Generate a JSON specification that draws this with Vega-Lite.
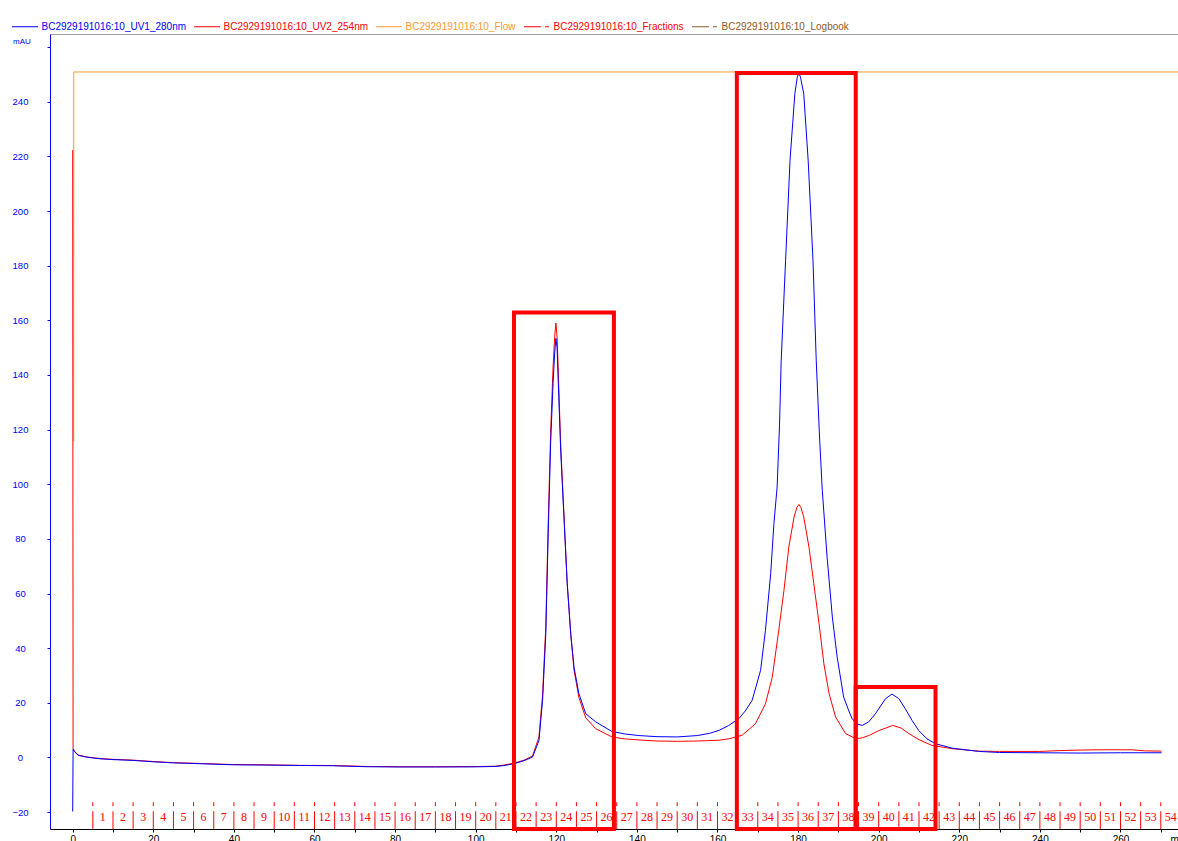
{
  "$schema": "https://vega.github.io/schema/vega-lite/v6.json",
  "width": 1129,
  "height": 795,
  "autosize": {"type": "none"},
  "padding": {"left": 50, "top": 34, "right": 0, "bottom": 12},
  "background": "white",
  "config": {
    "view": {"stroke": "#a0a0a0", "strokeWidth": 1},
    "axis": {"labelFont": "Liberation Sans", "titleFont": "Liberation Sans", "grid": false},
    "legend": {"labelFont": "Liberation Sans"}
  },
  "datasets": {
    "uv1": [
      {"ml": 0, "mAU": -19.8}, {"ml": 0.1, "mAU": 3.0}, {"ml": 0.4, "mAU": 2.2}, {"ml": 1.3, "mAU": 0.8},
      {"ml": 3.4, "mAU": 0.1}, {"ml": 6.7, "mAU": -0.5}, {"ml": 10, "mAU": -0.8}, {"ml": 15, "mAU": -1.1},
      {"ml": 20, "mAU": -1.6}, {"ml": 25, "mAU": -2.0}, {"ml": 31.5, "mAU": -2.3}, {"ml": 39.7, "mAU": -2.7},
      {"ml": 48, "mAU": -2.8}, {"ml": 56.3, "mAU": -2.95}, {"ml": 64.5, "mAU": -3.05}, {"ml": 72.8, "mAU": -3.4},
      {"ml": 81, "mAU": -3.5}, {"ml": 90, "mAU": -3.5}, {"ml": 100, "mAU": -3.45}, {"ml": 105, "mAU": -3.3},
      {"ml": 107, "mAU": -3.0}, {"ml": 109.5, "mAU": -2.3}, {"ml": 112, "mAU": -1.2}, {"ml": 114.1, "mAU": 0.1},
      {"ml": 115.7, "mAU": 6.2}, {"ml": 116.6, "mAU": 20.9}, {"ml": 117.4, "mAU": 45.4}, {"ml": 118, "mAU": 82},
      {"ml": 118.6, "mAU": 115}, {"ml": 119.2, "mAU": 137}, {"ml": 119.6, "mAU": 148}, {"ml": 119.9, "mAU": 153.4},
      {"ml": 120.2, "mAU": 150}, {"ml": 120.5, "mAU": 137}, {"ml": 121.1, "mAU": 112}, {"ml": 121.9, "mAU": 88},
      {"ml": 122.7, "mAU": 64}, {"ml": 123.6, "mAU": 45}, {"ml": 124.4, "mAU": 33}, {"ml": 125.6, "mAU": 23.4},
      {"ml": 127.3, "mAU": 16}, {"ml": 129.8, "mAU": 13}, {"ml": 133.8, "mAU": 9.5}, {"ml": 137, "mAU": 8.6},
      {"ml": 140.5, "mAU": 8.0}, {"ml": 145, "mAU": 7.6}, {"ml": 150, "mAU": 7.5}, {"ml": 155, "mAU": 8.0},
      {"ml": 158, "mAU": 8.8}, {"ml": 160.4, "mAU": 9.9}, {"ml": 162.8, "mAU": 11.7}, {"ml": 165.3, "mAU": 14.2},
      {"ml": 166.9, "mAU": 17}, {"ml": 168.6, "mAU": 20.9}, {"ml": 170.7, "mAU": 31.9}, {"ml": 171.9, "mAU": 46.5},
      {"ml": 173.2, "mAU": 67.2}, {"ml": 174, "mAU": 85.5}, {"ml": 174.8, "mAU": 99}, {"ml": 175.4, "mAU": 122},
      {"ml": 175.8, "mAU": 145}, {"ml": 176.9, "mAU": 182}, {"ml": 178, "mAU": 218.6}, {"ml": 179.2, "mAU": 243},
      {"ml": 179.8, "mAU": 249}, {"ml": 180.2, "mAU": 250.4}, {"ml": 180.6, "mAU": 249}, {"ml": 181.4, "mAU": 243},
      {"ml": 182.5, "mAU": 218.6}, {"ml": 183.7, "mAU": 182}, {"ml": 184.5, "mAU": 145.4}, {"ml": 185.3, "mAU": 118},
      {"ml": 186, "mAU": 97.8}, {"ml": 187.2, "mAU": 73.3}, {"ml": 188.5, "mAU": 51.4}, {"ml": 189.7, "mAU": 36.7},
      {"ml": 191.3, "mAU": 22.1}, {"ml": 192.6, "mAU": 17}, {"ml": 193.4, "mAU": 14.2}, {"ml": 194.6, "mAU": 12.3},
      {"ml": 195.9, "mAU": 11.7}, {"ml": 197.5, "mAU": 13}, {"ml": 199.2, "mAU": 16}, {"ml": 201.7, "mAU": 21.5},
      {"ml": 203.3, "mAU": 23.2}, {"ml": 205, "mAU": 21.5}, {"ml": 206.6, "mAU": 17.8}, {"ml": 208.3, "mAU": 13.5},
      {"ml": 209.9, "mAU": 9.9}, {"ml": 212, "mAU": 6.8}, {"ml": 214.1, "mAU": 5}, {"ml": 218.2, "mAU": 3.4},
      {"ml": 224.8, "mAU": 2.2}, {"ml": 230, "mAU": 1.8}, {"ml": 240, "mAU": 1.7}, {"ml": 250, "mAU": 1.6},
      {"ml": 260, "mAU": 1.7}, {"ml": 270.2, "mAU": 1.7}
    ],
    "uv2": [
      {"ml": 0, "mAU": 222.3}, {"ml": 0.1, "mAU": 3.3}, {"ml": 0.4, "mAU": 2.4}, {"ml": 1.3, "mAU": 0.9},
      {"ml": 3.4, "mAU": 0.2}, {"ml": 6.7, "mAU": -0.4}, {"ml": 10, "mAU": -0.7}, {"ml": 15, "mAU": -1.0},
      {"ml": 20, "mAU": -1.5}, {"ml": 25, "mAU": -1.9}, {"ml": 31.5, "mAU": -2.2}, {"ml": 39.7, "mAU": -2.6},
      {"ml": 48, "mAU": -2.7}, {"ml": 56.3, "mAU": -2.9}, {"ml": 64.5, "mAU": -2.95}, {"ml": 72.8, "mAU": -3.3},
      {"ml": 81, "mAU": -3.4}, {"ml": 90, "mAU": -3.4}, {"ml": 100, "mAU": -3.35}, {"ml": 105, "mAU": -3.2},
      {"ml": 107, "mAU": -2.8}, {"ml": 109.5, "mAU": -2.1}, {"ml": 112, "mAU": -1.0}, {"ml": 114.1, "mAU": 0.5},
      {"ml": 115.7, "mAU": 7.5}, {"ml": 116.6, "mAU": 23}, {"ml": 117.4, "mAU": 48}, {"ml": 118, "mAU": 86},
      {"ml": 118.6, "mAU": 119}, {"ml": 119.2, "mAU": 143}, {"ml": 119.6, "mAU": 154}, {"ml": 119.9, "mAU": 159},
      {"ml": 120.2, "mAU": 154}, {"ml": 120.5, "mAU": 141}, {"ml": 121.1, "mAU": 114}, {"ml": 121.9, "mAU": 89},
      {"ml": 122.7, "mAU": 64}, {"ml": 123.6, "mAU": 45}, {"ml": 124.4, "mAU": 32}, {"ml": 125.6, "mAU": 22},
      {"ml": 127.3, "mAU": 14.5}, {"ml": 129.8, "mAU": 10.5}, {"ml": 133.8, "mAU": 7.5}, {"ml": 137, "mAU": 6.8},
      {"ml": 140.5, "mAU": 6.4}, {"ml": 145, "mAU": 6.0}, {"ml": 150, "mAU": 5.9}, {"ml": 155, "mAU": 6.0},
      {"ml": 160.4, "mAU": 6.3}, {"ml": 162.8, "mAU": 6.8}, {"ml": 166.1, "mAU": 8.1}, {"ml": 169.4, "mAU": 12.3},
      {"ml": 171.9, "mAU": 19.6}, {"ml": 173.6, "mAU": 29.4}, {"ml": 175.2, "mAU": 46.5}, {"ml": 176.5, "mAU": 61.2},
      {"ml": 177.7, "mAU": 77}, {"ml": 179, "mAU": 88}, {"ml": 179.7, "mAU": 91.5}, {"ml": 180.2, "mAU": 92.6},
      {"ml": 180.7, "mAU": 91.5}, {"ml": 181.4, "mAU": 88}, {"ml": 182.7, "mAU": 77}, {"ml": 183.9, "mAU": 63.6},
      {"ml": 185.2, "mAU": 49}, {"ml": 186.4, "mAU": 34.3}, {"ml": 187.7, "mAU": 23.3}, {"ml": 189.3, "mAU": 14.8},
      {"ml": 191.8, "mAU": 8.7}, {"ml": 194.4, "mAU": 6.8}, {"ml": 196, "mAU": 7.2}, {"ml": 197.7, "mAU": 8.1},
      {"ml": 200, "mAU": 9.8}, {"ml": 203.5, "mAU": 11.7}, {"ml": 205.5, "mAU": 10.8}, {"ml": 207.5, "mAU": 8.7},
      {"ml": 210, "mAU": 6.5}, {"ml": 213.2, "mAU": 4.4}, {"ml": 218.2, "mAU": 3.2}, {"ml": 224.8, "mAU": 2.3},
      {"ml": 230, "mAU": 2.2}, {"ml": 240, "mAU": 2.2}, {"ml": 245, "mAU": 2.5}, {"ml": 250, "mAU": 2.7},
      {"ml": 255, "mAU": 2.8}, {"ml": 262.7, "mAU": 2.8}, {"ml": 266, "mAU": 2.4}, {"ml": 270.2, "mAU": 2.3}
    ],
    "flow": [
      {"ml": 0.25, "mAU": 115.7}, {"ml": 0.27, "mAU": 250.9}, {"ml": 274.5, "mAU": 250.9}
    ],
    "fractions": [
      {"fraction": "1", "start": 5}, {"fraction": "2", "start": 10}, {"fraction": "3", "start": 15},
      {"fraction": "4", "start": 20}, {"fraction": "5", "start": 25}, {"fraction": "6", "start": 30},
      {"fraction": "7", "start": 35}, {"fraction": "8", "start": 40}, {"fraction": "9", "start": 45},
      {"fraction": "10", "start": 50}, {"fraction": "11", "start": 55}, {"fraction": "12", "start": 60},
      {"fraction": "13", "start": 65}, {"fraction": "14", "start": 70}, {"fraction": "15", "start": 75},
      {"fraction": "16", "start": 80}, {"fraction": "17", "start": 85}, {"fraction": "18", "start": 90},
      {"fraction": "19", "start": 95}, {"fraction": "20", "start": 100}, {"fraction": "21", "start": 105},
      {"fraction": "22", "start": 110}, {"fraction": "23", "start": 115}, {"fraction": "24", "start": 120},
      {"fraction": "25", "start": 125}, {"fraction": "26", "start": 130}, {"fraction": "27", "start": 135},
      {"fraction": "28", "start": 140}, {"fraction": "29", "start": 145}, {"fraction": "30", "start": 150},
      {"fraction": "31", "start": 155}, {"fraction": "32", "start": 160}, {"fraction": "33", "start": 165},
      {"fraction": "34", "start": 170}, {"fraction": "35", "start": 175}, {"fraction": "36", "start": 180},
      {"fraction": "37", "start": 185}, {"fraction": "38", "start": 190}, {"fraction": "39", "start": 195},
      {"fraction": "40", "start": 200}, {"fraction": "41", "start": 205}, {"fraction": "42", "start": 210},
      {"fraction": "43", "start": 215}, {"fraction": "44", "start": 220}, {"fraction": "45", "start": 225},
      {"fraction": "46", "start": 230}, {"fraction": "47", "start": 235}, {"fraction": "48", "start": 240},
      {"fraction": "49", "start": 245}, {"fraction": "50", "start": 250}, {"fraction": "51", "start": 255},
      {"fraction": "52", "start": 260}, {"fraction": "53", "start": 265}, {"fraction": "54", "start": 270}
    ],
    "boxes": [
      {"x1": 109.5, "x2": 134.3, "y1": -26.2, "y2": 162.9},
      {"x1": 164.8, "x2": 194.3, "y1": -26.2, "y2": 250.5},
      {"x1": 194.3, "x2": 214.1, "y1": -26.2, "y2": 25.8}
    ]
  },
  "layer": [
    {
      "data": {"name": "flow"},
      "mark": {"type": "line", "strokeWidth": 1},
      "encoding": {
        "x": {"field": "ml", "type": "quantitative",
          "scale": {"domain": [-5.63, 274.52], "nice": false, "zero": false},
          "axis": {
            "values": [0,10,20,30,40,50,60,70,80,90,100,110,120,130,140,150,160,170,180,190,200,210,220,230,240,250,260,270],
            "labelExpr": "datum.value % 20 == 0 ? datum.label : ''",
            "domainColor": "#000000", "tickColor": "#000000", "tickSize": 3,
            "labelColor": "#000000", "labelFontSize": 10, "labelPadding": 2, "labelOverlap": false, "labelFlush": false,
            "title": "ml", "titleColor": "#000000", "titleFontSize": 10, "titleFontWeight": "normal",
            "titleAnchor": "start", "titleAlign": "left", "titleBaseline": "top", "titleX": 1120, "titleY": 5
          }
        },
        "y": {"field": "mAU", "type": "quantitative",
          "scale": {"domain": [-26.2, 264.8], "nice": false, "zero": false},
          "axis": {
            "values": [-20,-10,0,10,20,30,40,50,60,70,80,90,100,110,120,130,140,150,160,170,180,190,200,210,220,230,240,250,260],
            "labelExpr": "datum.value % 20 == 0 && datum.value <= 240 ? datum.label : ''",
            "domainColor": "#0000FF", "tickColor": "#0000FF", "tickSize": 3,
            "labelColor": "#0000FF", "labelFontSize": 9.5, "labelAlign": "center", "labelPadding": 27, "labelOverlap": false, "labelFlush": false,
            "title": "mAU", "titleColor": "#0000FF", "titleFontSize": 8, "titleFontWeight": "normal", "titleAngle": 0,
            "titleAlign": "left", "titleBaseline": "alphabetic", "titleX": -37.5, "titleY": 9.5
          }
        },
        "color": {"datum": "BC2929191016:10_Flow",
          "scale": {"domain": ["BC2929191016:10_UV1_280nm", "BC2929191016:10_UV2_254nm", "BC2929191016:10_Flow", "BC2929191016:10_Fractions", "BC2929191016:10_Logbook"],
                    "range": ["#0000FF", "#FF0000", "#FF9933", "#FF0000", "#8B5A2B"]},
          "legend": {
            "title": null, "orient": "none", "direction": "horizontal", "columns": 5,
            "legendX": -38.5, "legendY": -21, "padding": 0,
            "symbolType": "stroke", "symbolSize": 676, "symbolStrokeWidth": 1,
            "labelFontSize": 10, "labelOffset": 3, "columnPadding": 5, "labelLimit": 300,
            "encode": {
              "labels": {"update": {"fill": {"signal": "scale('color', datum.value)"}}},
              "symbols": {"update": {"strokeDash": {"signal": "indexof(datum.value, 'Fractions') >= 0 || indexof(datum.value, 'Logbook') >= 0 ? [17,4,4,20] : []"}}}
            }
          }
        }
      }
    },
    {
      "data": {"name": "uv2"},
      "mark": {"type": "line", "strokeWidth": 1},
      "encoding": {
        "x": {"field": "ml", "type": "quantitative"},
        "y": {"field": "mAU", "type": "quantitative"},
        "color": {"datum": "BC2929191016:10_UV2_254nm"}
      }
    },
    {
      "data": {"name": "uv1"},
      "mark": {"type": "line", "strokeWidth": 1},
      "encoding": {
        "x": {"field": "ml", "type": "quantitative"},
        "y": {"field": "mAU", "type": "quantitative"},
        "color": {"datum": "BC2929191016:10_UV1_280nm"}
      }
    },
    {
      "data": {"name": "fractions"},
      "mark": {"type": "rule", "color": "#FF0000", "strokeWidth": 1, "strokeDash": [4, 5, 40, 5]},
      "encoding": {
        "x": {"field": "start", "type": "quantitative"},
        "y": {"datum": -16.4, "type": "quantitative"},
        "y2": {"datum": -26.2}
      }
    },
    {
      "data": {"name": "fractions"},
      "mark": {"type": "text", "color": "#FF0000", "font": "Liberation Serif", "fontSize": 12, "align": "center", "baseline": "middle", "dx": 10},
      "encoding": {
        "x": {"field": "start", "type": "quantitative"},
        "y": {"datum": -21.9, "type": "quantitative"},
        "text": {"field": "fraction"}
      }
    },
    {
      "data": {"name": "boxes"},
      "mark": {"type": "rect", "filled": false, "stroke": "#FF0000", "strokeWidth": 4},
      "encoding": {
        "x": {"field": "x1", "type": "quantitative"},
        "x2": {"field": "x2"},
        "y": {"field": "y1", "type": "quantitative"},
        "y2": {"field": "y2"}
      }
    }
  ]
}
